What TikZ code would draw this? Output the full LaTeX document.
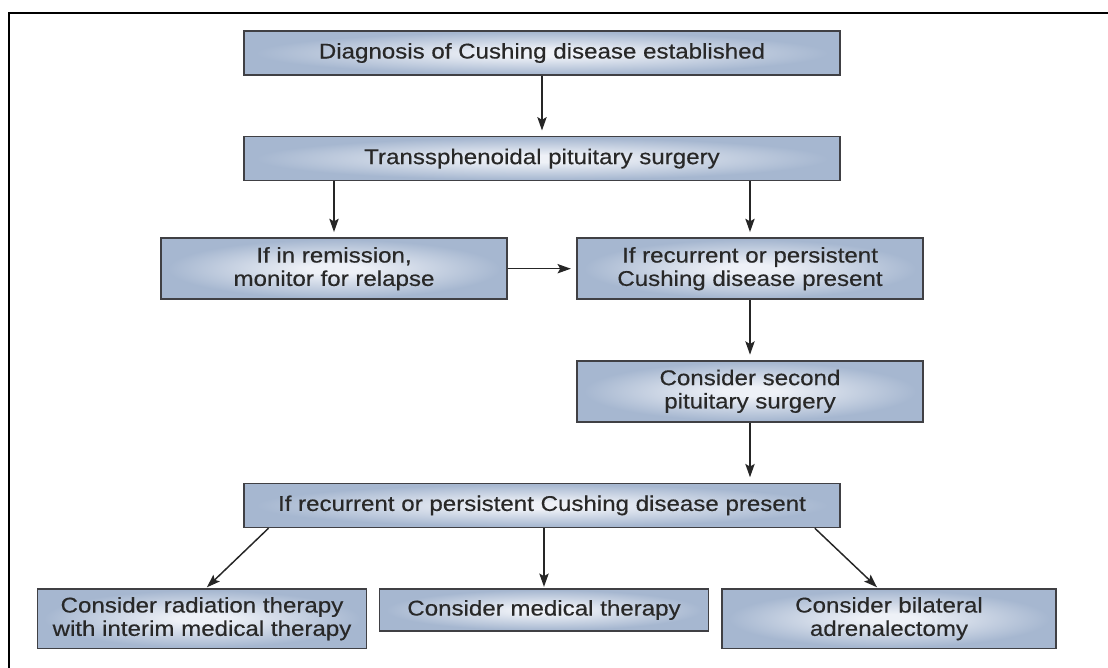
\documentclass[tikz,border=0pt]{standalone}
\usepackage{fontspec}
\setmainfont{Liberation Sans}[FakeStretch=1.13, FakeBold=0.4]
\usetikzlibrary{positioning, arrows.meta}
\definecolor{boxedge}{RGB}{166,183,208}
\definecolor{boxcentre}{RGB}{238,241,247}
\definecolor{boxline}{RGB}{64,64,68}
\definecolor{textgray}{RGB}{40,40,40}
\pgfdeclareradialshading{boxglow}{\pgfpoint{0bp}{0bp}}{color(0bp)=(boxcentre); color(4bp)=(boxcentre); color(24bp)=(boxedge); color(50bp)=(boxedge)}
\tikzset{
    >={Stealth[length=10pt, width=7pt, inset=2pt]}, % Arrowheads
    node distance=45pt, % Gap between rows
    stagebox/.style={draw=boxline, line width=1.2pt, shading=boxglow, text=textgray,
        align=center, inner sep=0pt, font=\fontsize{16}{17.5}\selectfont}, % Every box
    widebox/.style={stagebox, minimum width=447pt, minimum height=33pt},
    midbox/.style={stagebox, minimum width=259.5pt, minimum height=45.75pt},
    endbox/.style={stagebox, minimum width=247pt, minimum height=44.5pt},
    flow/.style={->, line width=1.1pt, draw=black!85, shorten >=4pt}, % Connectors
}
\begin{document}
\begin{tikzpicture}
    \useasboundingbox (0pt,0pt) rectangle (831pt,-501pt);
    \draw[line width=1.6pt] (6.75pt,-501pt) |- (831pt,-9.75pt);

    \node[widebox] (diag) at (406.5pt,-39.75pt) {Diagnosis of Cushing disease established};
    \node[widebox] (surg) [below=of diag] {Transsphenoidal pituitary surgery};
    \node[midbox] (remit) [below=42pt of surg, xshift=-156pt] {If in remission,\\monitor for relapse};
    \node[midbox] (recur) [below=42pt of surg, xshift=156pt] {If recurrent or persistent\\Cushing disease present};
    \node[midbox] (second) [below=of recur] {Consider second\\pituitary surgery};
    \node[widebox] (again) [below=of second, xshift=-156pt] {If recurrent or persistent Cushing disease present};
    \node[endbox] (radio) [below=of again, xshift=-255pt] {Consider radiation therapy\\with interim medical therapy};
    \node[endbox, minimum height=31.5pt] (medic) [below=of again, xshift=1.5pt] {Consider medical therapy};
    \node[endbox, minimum width=250.5pt] (adren) [below=of again, xshift=260.25pt] {Consider bilateral\\adrenalectomy};

    \draw[flow] (diag) -- (surg);
    \draw[flow] (surg.south -| remit) -- (remit.north);
    \draw[flow] (surg.south -| recur) -- (recur.north);
    \draw[flow] (remit) -- (recur);
    \draw[flow] (recur) -- (second);
    \draw[flow] (second.south) -- (again.north -| second);
    \draw[flow, shorten >=1pt] ([xshift=19pt]again.south west) -- ([xshift=3pt]radio.north);
    \draw[flow, shorten >=1pt] (again.south -| medic) -- (medic.north);
    \draw[flow, shorten >=1pt] ([xshift=-19.5pt]again.south east) -- ([xshift=-8.25pt]adren.north);
\end{tikzpicture}
\end{document}
